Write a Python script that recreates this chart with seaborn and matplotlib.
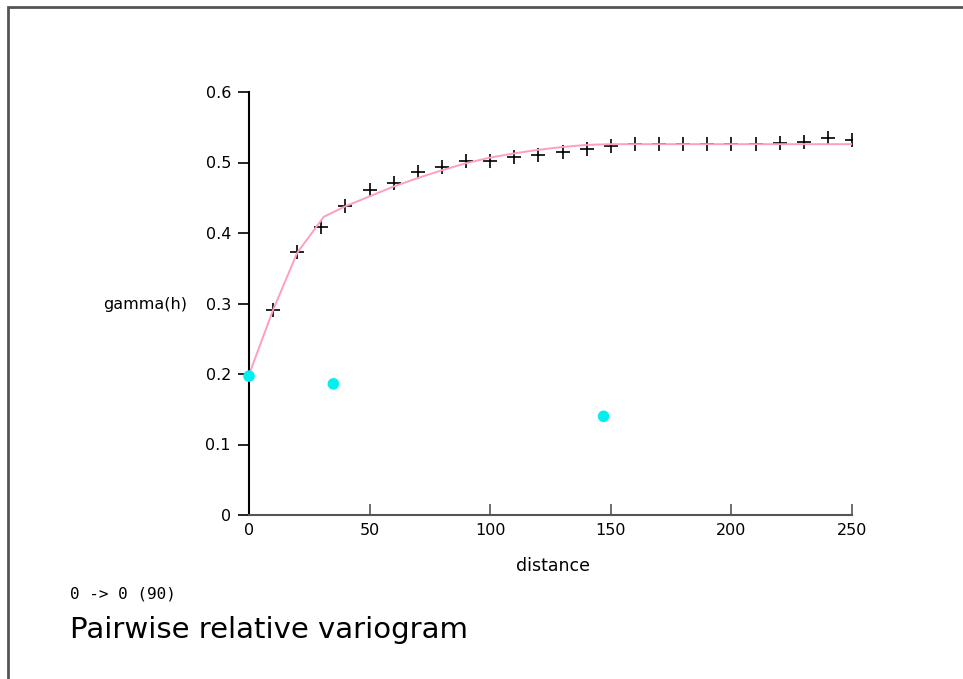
import matplotlib
matplotlib.use("Agg")
import matplotlib.pyplot as plt
import seaborn as sns
from matplotlib.patches import Rectangle

# experimental variogram (crosses)
lag_dist = [10, 20, 30, 40, 50, 60, 70, 80, 90, 100, 110, 120, 130, 140, 150,
            160, 170, 180, 190, 200, 210, 220, 230, 240, 250]
lag_gamma = [0.291, 0.373, 0.409, 0.438, 0.461, 0.471, 0.487, 0.494, 0.502, 0.502,
             0.508, 0.511, 0.515, 0.519, 0.523, 0.526, 0.526, 0.526, 0.526, 0.526,
             0.526, 0.527, 0.529, 0.535, 0.532]

# fitted model (pink line)
model_dist = [0, 10, 20, 31, 40, 50, 60, 70, 80, 90, 100, 110, 120, 130, 140, 150, 250]
model_gamma = [0.199, 0.291, 0.372, 0.423, 0.438, 0.452, 0.466, 0.478, 0.489, 0.499,
               0.507, 0.513, 0.518, 0.522, 0.525, 0.526, 0.526]

# extra points (cyan)
pt_dist = [0, 35, 147]
pt_gamma = [0.197, 0.186, 0.140]

x_ticks = [0, 50, 100, 150, 200, 250]
y_ticks = [0, 0.1, 0.2, 0.3, 0.4, 0.5, 0.6]
y_tick_labels = ["0", "0.1", "0.2", "0.3", "0.4", "0.5", "0.6"]

sns.set_style("white")
plt.rcParams["font.family"] = ["DejaVu Sans"]
plt.rcParams["text.color"] = "black"
plt.rcParams["axes.labelcolor"] = "black"
plt.rcParams["xtick.color"] = "black"
plt.rcParams["ytick.color"] = "black"

fig = plt.figure(figsize=(9.63, 6.79), dpi=100)
ax = fig.add_axes([249 / 963, 1 - 515 / 679, 603 / 963, 423 / 679])

sns.scatterplot(x=lag_dist, y=lag_gamma, ax=ax, marker="+", color="black", s=90,
                linewidth=1.2, zorder=2)
sns.lineplot(x=model_dist, y=model_gamma, ax=ax, color="#ff9ec0", linewidth=1.4,
             zorder=3)
sns.scatterplot(x=pt_dist, y=pt_gamma, ax=ax, color="#00f0f0", s=70,
                edgecolor="none", zorder=4, clip_on=False)

ax.set_xlim(0, 250)
ax.set_ylim(0, 0.6)
ax.set_xticks(x_ticks)
ax.set_xticklabels([str(t) for t in x_ticks])
ax.set_yticks(y_ticks)
ax.set_yticklabels(y_tick_labels)

for side in ["top", "right"]:
    ax.spines[side].set_visible(False)
ax.spines["left"].set_color("black")
ax.spines["left"].set_linewidth(1.5)
ax.spines["bottom"].set_color("#555555")
ax.spines["bottom"].set_linewidth(1.5)
ax.tick_params(axis="y", left=True, direction="out", length=8, width=1.2,
               color="black", labelsize=11.5, pad=5)
ax.tick_params(axis="x", bottom=True, direction="in", length=8, width=1.2,
               color="#555555", labelsize=11.5, pad=6)
ax.set_xlabel("")
ax.set_ylabel("")

fig.text(553 / 963, 1 - 566 / 679, "distance", fontsize=12.5, va="center", ha="center")
fig.text(103 / 963, 1 - 305 / 679, "gamma(h)", fontsize=11.5, va="center", ha="left")
fig.text(70 / 963, 1 - 594 / 679, "0 -> 0 (90)", fontsize=11.5, va="center", ha="left",
         family="DejaVu Sans Mono")
fig.text(70 / 963, 1 - 630 / 679, "Pairwise relative variogram", fontsize=21,
         va="center", ha="left")

# outer frame
fig.patches.append(Rectangle((8 / 963, -0.05), 1.1, 1 - 7 / 679 + 0.05,
                             transform=fig.transFigure, fill=False,
                             edgecolor="#555555", linewidth=2))

fig.savefig("out.png", dpi=100)
